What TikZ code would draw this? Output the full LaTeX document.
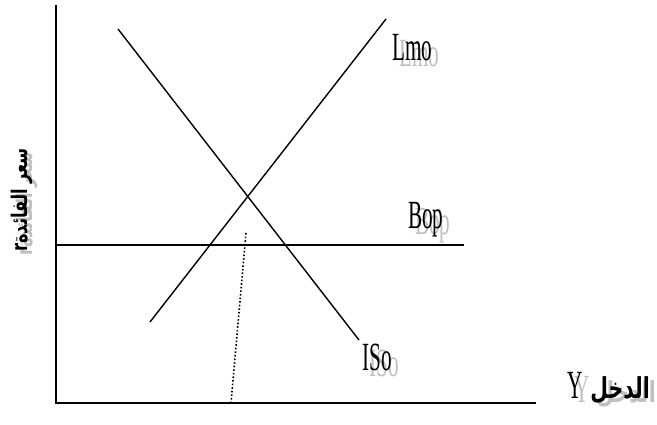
\documentclass[tikz,border=0pt]{standalone}
\usepackage{fontspec}
\setmainfont{Liberation Serif}
\newfontfamily\arabicfont[Script=Arabic]{DejaVu Sans}
\TeXXeTstate=1
\begin{document}
\begin{tikzpicture}[x=1pt,y=-1pt,
  curve/.style={line width=1.4pt},
  axisline/.style={line width=1.6pt},
  lbl/.style={font=\fontsize{40}{40}\selectfont, inner sep=0pt, anchor=base west},
  shadowlbl/.style={lbl, text=black!25},
  arlbl/.style={font=\arabicfont\bfseries\fontsize{24}{24}\selectfont, inner sep=0pt}]
\useasboundingbox (0,0) rectangle (657,424);
% coordinates
\coordinate (O) at (56,403);
\coordinate (ytop) at (56,5);
\coordinate (xend) at (536,403);
\coordinate (lmA) at (150,322);
\coordinate (lmB) at (386,19);
\coordinate (isA) at (118,29);
\coordinate (isB) at (359,340);
\coordinate (bpA) at (56,245);
\coordinate (bpB) at (464,245);
\coordinate (dtA) at (246,233);
\coordinate (dtB) at (231,403);
% axes
\draw[axisline] (ytop) -- (O) -- (xend);
% curves
\draw[curve] (lmA) -- (lmB);
\draw[curve] (isA) -- (isB);
\draw[curve] (bpA) -- (bpB);
\draw[line width=1.6pt, dotted] (dtA) -- (dtB);
% labels with shadows
\node[shadowlbl] (lmoS) at (399,66) {\scalebox{0.53}[1]{Lmo}};
\node[lbl] (lmo) at (392,60) {\scalebox{0.53}[1]{Lmo}};
\node[shadowlbl] (bopS) at (415,234) {\scalebox{0.53}[1]{Bop}};
\node[lbl] (bop) at (408,228) {\scalebox{0.53}[1]{Bop}};
\node[shadowlbl] (isoS) at (369,376) {\scalebox{0.53}[1]{ISo}};
\node[lbl] (iso) at (362,370) {\scalebox{0.53}[1]{ISo}};
\node[shadowlbl] (yS) at (574,402) {\scalebox{0.53}[1]{Y}};
\node[lbl] (ylab) at (567,398) {\scalebox{0.53}[1]{Y}};
\node[arlbl, text=black!25, anchor=base east] (incS) at (656,402) {\scalebox{0.85}[1.2]{\beginR الدخل\endR}};
\node[arlbl, anchor=base east] (inc) at (650,398) {\scalebox{0.85}[1.2]{\beginR الدخل\endR}};
\node[arlbl, text=black!25, rotate=90] (rS) at (27,204) {\scalebox{0.68}[0.9]{\beginR سعر الفائدة\beginL r\endL\endR}};
\node[arlbl, rotate=90] (rlab) at (22,200) {\scalebox{0.68}[0.9]{\beginR سعر الفائدة\beginL r\endL\endR}};
\end{tikzpicture}
\end{document}
